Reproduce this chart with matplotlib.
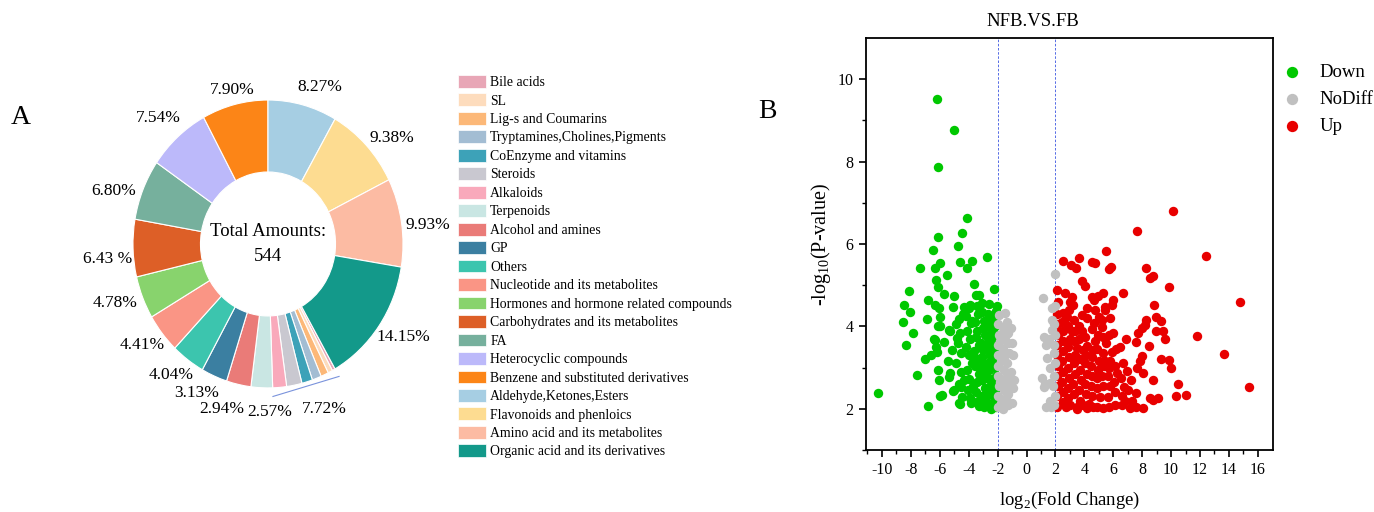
import matplotlib
matplotlib.use("Agg")
import matplotlib.pyplot as plt
from matplotlib.patches import Patch
import numpy as np

plt.rcParams['font.family'] = ['Liberation Serif', 'DejaVu Serif']
plt.rcParams['mathtext.fontset'] = 'custom'
plt.rcParams['mathtext.rm'] = 'Liberation Serif'
plt.rcParams['axes.unicode_minus'] = False

# ---- panel A: metabolite classes (counts out of 544) ----
classes = ["Bile acids", "SL", "Lig-s and Coumarins", "Tryptamines,Cholines,Pigments",
           "CoEnzyme and vitamins", "Steroids", "Alkaloids", "Terpenoids",
           "Alcohol and amines", "GP", "Others", "Nucleotide and its metabolites",
           "Hormones and hormone related compounds", "Carbohydrates and its metabolites",
           "FA", "Heterocyclic compounds", "Benzene and substituted derivatives",
           "Aldehyde,Ketones,Esters", "Flavonoids and phenloics",
           "Amino acid and its metabolites", "Organic acid and its derivatives"]
counts = [2, 3, 5, 6, 7, 10, 9, 14, 16, 17, 22, 24, 26, 35, 37, 41, 43, 45, 51, 54, 77]
colors = ["#E8A6B6", "#FDDCBD", "#FCB878", "#A3BDD3", "#3DA2B8", "#C9C8D0", "#F9A9BB",
          "#C9E6E3", "#EA7B78", "#3B7FA1", "#3CC5AE", "#FA9585", "#88D36D", "#DD5F27",
          "#76B09D", "#BCB9FA", "#FC8517", "#A6CEE3", "#FDDC91", "#FCBBA3", "#13998A"]
# percentage labels: (text, first class index, last class index)
pct_labels = [("7.72%", 0, 6), ("2.57%", 7, 7), ("2.94%", 8, 8), ("3.13%", 9, 9),
              ("4.04%", 10, 10), ("4.41%", 11, 11), ("4.78%", 12, 12), ("6.43 %", 13, 13),
              ("6.80%", 14, 14), ("7.54%", 15, 15), ("7.90%", 16, 16), ("8.27%", 17, 17),
              ("9.38%", 18, 18), ("9.93%", 19, 19), ("14.15%", 20, 20)]
# label placement tweaks (radius, angle shift in degrees) so they don't collide
label_r = [1.22, 1.17, 1.195, 1.16, 1.16, 1.166, 1.205, 1.19, 1.205, 1.196, 1.10,
           1.156, 1.177, 1.19, 1.19]
label_da = [4.2, 3.3, -3.9, -3.6, -1.9, -1.5, -2.1, 3.3, 4.3, 0.9, -0.4, -4.6, -4.6,
            -2.2, 1.9]

# ---- panel B: volcano points (log2 FC, -log10 P) ----
down_pts = [(-10.3, 2.39), (-6.18, 9.51), (-5.0, 8.77), (-6.15, 7.86), (-4.12, 6.63),
            (-4.45, 6.26), (-6.13, 6.18), (-4.77, 5.95), (-6.47, 5.86), (-2.72, 5.69),
            (-3.78, 5.59), (-4.59, 5.57), (-5.97, 5.54), (-7.37, 5.41), (-6.36, 5.41),
            (-4.12, 5.41), (-5.5, 5.25), (-6.27, 5.13), (-3.64, 5.03), (-6.13, 4.95),
            (-2.26, 4.90), (-8.13, 4.87), (-5.74, 4.79), (-3.52, 4.77), (-3.29, 4.77),
            (-6.82, 4.65), (-5.05, 4.73), (-8.5, 4.51), (-6.31, 4.51), (-2.58, 4.54),
            (-2.05, 4.5), (-8.04, 4.35), (-6.08, 4.44), (-4.35, 4.48), (-3.89, 4.52),
            (-3.06, 4.56), (-8.57, 4.10), (-6.89, 4.18), (-5.97, 4.24), (-4.70, 4.18),
            (-3.78, 4.12), (-7.88, 3.84), (-5.97, 4.0), (-5.32, 3.88), (-8.36, 3.56),
            (-6.36, 3.67), (-5.74, 3.61), (-4.82, 3.72), (-7.03, 3.21), (-6.64, 3.31),
            (-6.2, 3.37), (-5.44, 3.17), (-5.16, 3.43), (-6.15, 2.93), (-7.58, 2.83),
            (-5.28, 2.88), (-6.06, 2.70), (-5.0, 2.46), (-4.54, 2.54), (-6.01, 2.32),
            (-5.83, 2.33), (-6.8, 2.08), (-4.63, 2.12), (-3.89, 2.25), (-3.32, 2.06),
            (-2.47, 2.0), (-5.11, 4.46), (-6.1, 4.0), (-5.34, 3.92), (-6.38, 3.70),
            (-6.27, 3.5), (-5.34, 2.78), (-5.07, 2.44), (-4.69, 2.14),
            (-2.12, 2.05), (-2.2, 2.25), (-2.15, 2.45), (-2.25, 2.62), (-2.1, 2.8),
            (-2.18, 2.98), (-2.3, 3.15), (-2.14, 3.32), (-2.22, 3.5), (-2.1, 3.68),
            (-2.28, 3.85), (-2.16, 4.02), (-2.2, 4.2), (-2.12, 4.38),
            (-2.55, 2.1), (-2.62, 2.35), (-2.5, 2.55), (-2.7, 2.75), (-2.58, 2.95),
            (-2.65, 3.1), (-2.52, 3.3), (-2.68, 3.45), (-2.6, 3.65), (-2.55, 3.82),
            (-2.72, 4.0), (-2.5, 4.15), (-2.64, 4.3),
            (-2.95, 2.05), (-3.05, 2.3), (-2.9, 2.5), (-3.1, 2.7), (-3.0, 2.88),
            (-2.92, 3.08), (-3.08, 3.25), (-2.98, 3.42), (-3.12, 3.6), (-2.9, 3.78),
            (-3.04, 3.95), (-2.96, 4.12), (-3.1, 4.35),
            (-3.35, 2.2), (-3.5, 2.4), (-3.42, 2.65), (-3.3, 2.85), (-3.55, 3.05),
            (-3.38, 3.2), (-3.6, 3.4), (-3.32, 3.55), (-3.48, 3.75), (-3.4, 3.9),
            (-3.56, 4.1), (-3.36, 4.3), (-3.45, 4.5),
            (-3.85, 2.15), (-4.05, 2.45), (-3.95, 2.72), (-4.15, 2.95), (-3.8, 3.12),
            (-4.0, 3.3), (-4.2, 3.5), (-3.9, 3.7), (-4.1, 3.88), (-3.82, 4.08),
            (-4.18, 4.25), (-3.98, 4.45),
            (-4.45, 2.28), (-4.7, 2.6), (-4.55, 2.9), (-4.85, 3.1), (-4.5, 3.35),
            (-4.75, 3.6), (-4.6, 3.85), (-4.9, 4.05), (-4.4, 4.3),
            (-2.38, 2.15), (-2.42, 2.72), (-2.35, 3.05), (-2.4, 3.58), (-2.36, 3.95),
            (-2.8, 2.2), (-2.82, 3.0), (-2.78, 3.55), (-3.2, 2.1), (-3.22, 3.0),
            (-3.7, 2.55), (-3.65, 3.25), (-4.3, 2.7)]
nodiff_pts = [(-1.95, 2.05), (-2.0, 2.3), (-1.92, 2.55), (-1.98, 2.8), (-1.94, 3.05),
              (-2.0, 3.3), (-1.96, 3.55), (-1.92, 3.8), (-1.98, 4.05), (-1.9, 4.28),
              (-1.6, 2.0), (-1.65, 2.2), (-1.58, 2.45), (-1.62, 2.7), (-1.55, 2.95),
              (-1.66, 3.2), (-1.6, 3.45), (-1.56, 3.7), (-1.64, 3.95), (-1.5, 4.33),
              (-1.3, 2.1), (-1.25, 2.35), (-1.35, 2.6), (-1.28, 2.85), (-1.32, 3.1),
              (-1.22, 3.35), (-1.3, 3.6), (-1.26, 3.85), (-1.38, 4.1),
              (-1.0, 2.15), (-0.95, 2.5), (-1.05, 2.9), (-0.92, 3.3), (-1.0, 3.6),
              (-1.1, 3.95), (-0.85, 2.7), (-1.78, 2.15), (-1.8, 2.65), (-1.75, 3.15),
              (-1.8, 3.65), (-1.45, 2.25), (-1.42, 2.75), (-1.48, 3.3), (-1.44, 3.8),
              (1.16, 4.69), (1.74, 4.45), (1.74, 4.16), (1.18, 3.74), (1.36, 3.55),
              (1.39, 3.23), (1.08, 2.74), (1.18, 2.54), (1.64, 2.62), (1.34, 2.04),
              (1.91, 2.10), (1.75, 3.92), (1.91, 3.55), (1.96, 5.27), (1.95, 2.3),
              (1.9, 2.8), (1.95, 3.1), (1.92, 3.35), (1.97, 3.8), (1.93, 4.05),
              (1.6, 2.2), (1.55, 3.7), (1.85, 2.55), (1.7, 2.05), (1.25, 2.6),
              (1.6, 3.0), (1.98, 4.5)]
up_pts = [(10.10, 6.81), (7.66, 6.32), (12.39, 5.71), (5.49, 5.83), (2.50, 5.58),
          (3.61, 5.66), (3.06, 5.50), (3.42, 5.42), (4.55, 5.56), (4.76, 5.55),
          (5.68, 5.40), (5.84, 5.43), (8.24, 5.41), (8.55, 5.17), (8.78, 5.23),
          (9.86, 4.95), (14.74, 4.60), (3.82, 5.09), (4.04, 4.98), (2.66, 4.81),
          (2.09, 4.89), (6.65, 4.81), (5.30, 4.82), (4.97, 4.74), (4.56, 4.71),
          (4.67, 4.63), (5.98, 4.63), (5.94, 4.53), (8.83, 4.51), (3.12, 4.71),
          (3.00, 4.59), (3.24, 4.51), (5.42, 4.48), (4.73, 4.39), (2.55, 4.32),
          (2.78, 4.24), (3.82, 4.27), (4.17, 4.21), (4.99, 4.24), (5.22, 4.16),
          (5.77, 4.20), (8.26, 4.16), (8.19, 4.04), (8.93, 4.23), (9.3, 4.14),
          (2.09, 3.92), (2.55, 3.88), (3.12, 3.88), (3.81, 3.88), (4.65, 4.09),
          (4.53, 3.94), (5.22, 3.98), (7.96, 3.96), (7.73, 3.84), (8.95, 3.88),
          (9.46, 3.88), (6.89, 3.69), (7.58, 3.61), (9.57, 3.70), (8.47, 3.53),
          (11.78, 3.77), (5.53, 3.59), (5.88, 3.39), (4.73, 3.65), (4.62, 3.43),
          (2.20, 3.80), (2.55, 3.65), (3.0, 3.69), (3.47, 3.48), (3.93, 3.43),
          (4.17, 3.52), (7.96, 3.27), (7.84, 3.15), (9.30, 3.21), (9.86, 3.19),
          (9.99, 2.99), (13.68, 3.33), (7.63, 2.99), (8.07, 2.88), (4.99, 3.15),
          (5.45, 3.15), (5.80, 3.15), (6.92, 2.91), (6.23, 2.87), (8.78, 2.70),
          (7.23, 2.70), (10.46, 2.61), (15.36, 2.54), (11.02, 2.34), (10.33, 2.30),
          (8.53, 2.26), (9.11, 2.25), (8.76, 2.21), (8.07, 2.03), (7.58, 2.05),
          (7.13, 2.02), (7.58, 2.38), (6.61, 2.30), (6.72, 2.54), (5.31, 2.02),
          (4.62, 2.05), (4.17, 2.02), (5.65, 2.28), (5.07, 2.28), (3.0, 2.10),
          (3.47, 2.05), (2.55, 2.17), (2.09, 2.30),
          (2.15, 2.55), (2.12, 2.8), (2.18, 3.05), (2.1, 3.3), (2.14, 3.55),
          (2.2, 4.05), (2.12, 4.3), (2.16, 4.6), (2.1, 2.05),
          (2.5, 2.4), (2.45, 2.65), (2.55, 2.9), (2.48, 3.15), (2.52, 3.4), (2.46, 4.1),
          (2.9, 2.25), (2.85, 2.5), (2.95, 2.75), (2.88, 3.0), (2.92, 3.25),
          (2.86, 3.5), (2.9, 4.0), (2.95, 4.4),
          (3.3, 2.35), (3.25, 2.6), (3.35, 2.85), (3.28, 3.1), (3.32, 3.3),
          (3.26, 3.65), (3.34, 3.9), (3.3, 4.15),
          (3.7, 2.2), (3.65, 2.45), (3.75, 2.7), (3.68, 2.95), (3.72, 3.2),
          (3.66, 3.7), (3.6, 4.0),
          (4.1, 2.35), (4.05, 2.6), (4.15, 2.85), (4.08, 3.1), (4.12, 3.3),
          (4.06, 3.75), (4.2, 4.45),
          (4.5, 2.3), (4.45, 2.55), (4.55, 2.8), (4.48, 3.05), (4.52, 3.25),
          (4.9, 2.5), (4.85, 2.75), (4.95, 2.95), (4.88, 3.45), (4.92, 3.8), (4.9, 2.05),
          (5.3, 2.55), (5.25, 2.8), (5.35, 3.05), (5.28, 3.35), (5.32, 3.75), (5.4, 4.4),
          (5.7, 2.05), (5.75, 2.55), (5.65, 2.8), (5.72, 3.0), (5.68, 3.8),
          (6.1, 2.1), (6.15, 2.4), (6.05, 2.65), (6.12, 3.05), (6.2, 3.45), (6.0, 3.85),
          (6.6, 2.1), (6.55, 2.75), (6.7, 3.1), (6.5, 3.5), (6.8, 2.2), (7.0, 2.45),
          (7.3, 2.2), (3.5, 2.0), (2.7, 2.05), (3.9, 2.1), (4.35, 2.12)]

fig = plt.figure(figsize=(13.74, 5.12), dpi=100)

# ---------------- A: donut ----------------
ax1 = fig.add_axes([0.0673, 0.158, 0.2555, 0.731])
total = sum(counts)
start = 90 + 360 * sum(counts[:17]) / total
wedges, _ = ax1.pie(counts, colors=colors, startangle=start, counterclock=False,
                    wedgeprops=dict(width=0.5, edgecolor='white', linewidth=0.8))
ax1.set_aspect('auto')
ax1.set_xlim(-1.3, 1.3)
ax1.set_ylim(-1.3, 1.3)

for (txt, i0, i1), r, da in zip(pct_labels, label_r, label_da):
    # clockwise pie: wedge i0 starts at theta2, wedge i1 ends at theta1
    a = np.deg2rad((wedges[i0].theta2 + wedges[i1].theta1) / 2 + da)
    ax1.text(r * np.cos(a), r * np.sin(a), txt, ha='center', va='center', fontsize=12.5)

# underline for the grouped small classes
a0 = np.deg2rad(wedges[0].theta2)
a1 = np.deg2rad(wedges[6].theta1)
ax1.plot([1.06 * np.cos(a0), 1.06 * np.cos(a1)], [1.06 * np.sin(a0), 1.06 * np.sin(a1)],
         color='#7A93DC', lw=0.8)

ax1.text(0, 0, "Total Amounts:\n544", ha='center', va='center', fontsize=13.5,
         linespacing=1.55)

handles = [Patch(facecolor=c, edgecolor='white', linewidth=0.5) for c in colors]
fig.legend(handles, classes, loc='upper left', bbox_to_anchor=(458 / 1374, 1 - 75 / 512),
           frameon=False, fontsize=9.9, handlelength=2.05, handleheight=1.05,
           handletextpad=0.3, labelspacing=0.32, borderpad=0, borderaxespad=0)

fig.text(21 / 1374, 1 - 117 / 512, "A", fontsize=20, ha='center', va='center')
fig.text(767 / 1374, 1 - 111 / 512, "B", fontsize=20, ha='center', va='center')

# ---------------- B: volcano ----------------
ax2 = fig.add_axes([0.6303, 0.1211, 0.2962, 0.8047])
dx, dy = zip(*down_pts)
nx, ny = zip(*nodiff_pts)
ux, uy = zip(*up_pts)
ax2.scatter(dx, dy, s=46, color='#00C800', linewidths=0, label='Down', zorder=2)
ax2.scatter(nx, ny, s=46, color='#C0C0C0', linewidths=0, label='NoDiff', zorder=3)
ax2.scatter(ux, uy, s=46, color='#E80000', linewidths=0, label='Up', zorder=2)
for xv in (-2, 2):
    ax2.axvline(xv, color='#3A55E0', lw=0.6, ls=(0, (3, 2)), zorder=1)

ax2.set_xlim(-11.1, 17.05)
ax2.set_ylim(1.0, 11.0)
ax2.set_xticks(np.arange(-10, 17, 2))
ax2.set_xticks(np.arange(-11, 17, 1), minor=True)
ax2.set_yticks([2, 4, 6, 8, 10])
ax2.set_yticks([1, 3, 5, 7, 9], minor=True)
ax2.tick_params(which='major', direction='out', length=5, width=1.2, labelsize=11.5, pad=4)
ax2.tick_params(which='minor', direction='out', length=3, width=1.0)
for sp in ax2.spines.values():
    sp.set_linewidth(1.3)
ax2.text(0.41, 1.04, "NFB.VS.FB", transform=ax2.transAxes, ha='center', va='center',
         fontsize=13.5)
ax2.set_xlabel(r"log$_\mathregular{2}$(Fold Change)", fontsize=13.5, labelpad=8)
ax2.set_ylabel(r"-log$_\mathregular{10}$(P-value)", fontsize=14.5, labelpad=3)
ax2.legend(loc='upper left', bbox_to_anchor=(0.995, 0.965), frameon=False, fontsize=13.5,
           handlelength=1.0, handletextpad=1.0, labelspacing=0.52, borderpad=0.4,
           borderaxespad=0.2, scatterpoints=1, markerscale=1.2)

fig.savefig("out.png", dpi=100)
